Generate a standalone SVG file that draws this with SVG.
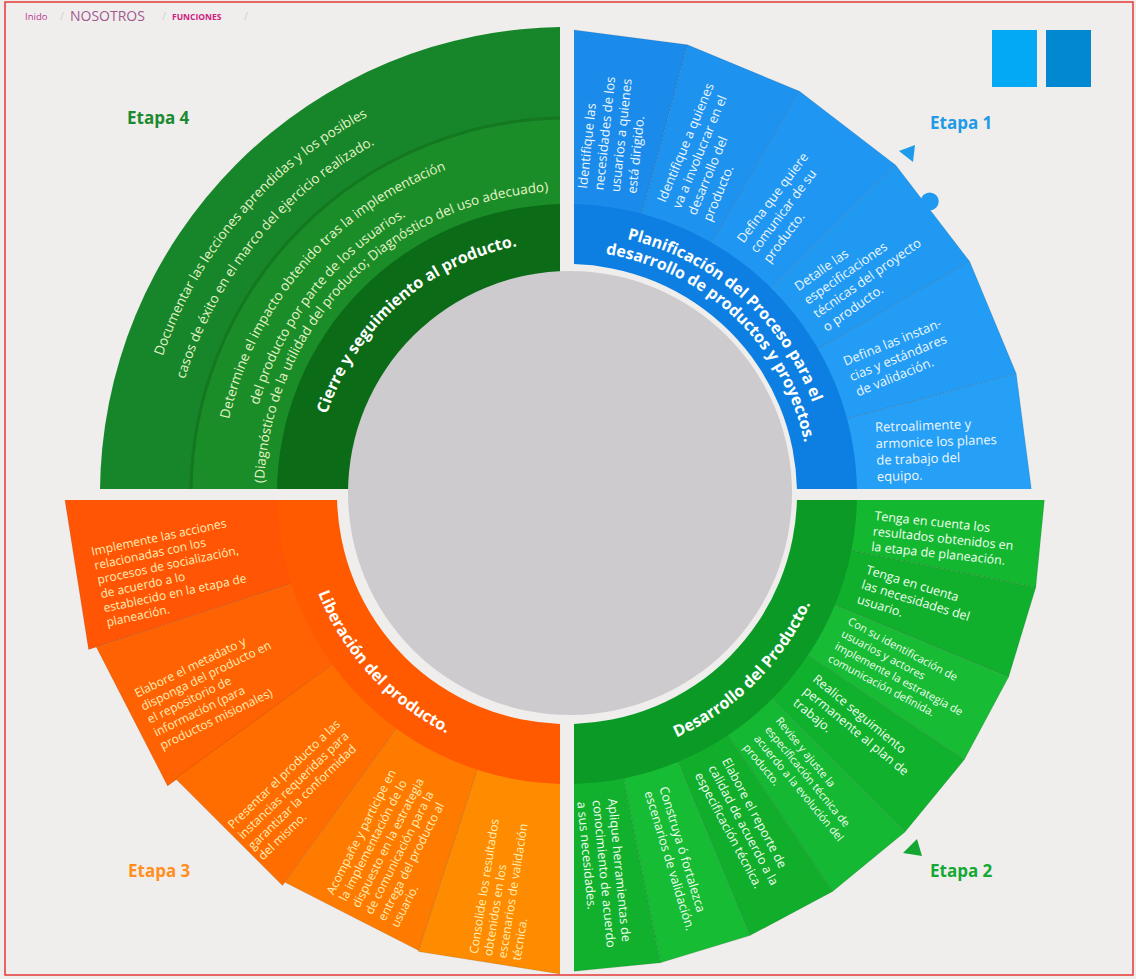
<svg xmlns="http://www.w3.org/2000/svg" xmlns:xlink="http://www.w3.org/1999/xlink" width="1136" height="979" viewBox="0 0 1136 979">
<style>
.f{font-family:"Open Sans","Noto Sans","DejaVu Sans",sans-serif}
.ct{font-family:"Open Sans","Noto Sans",sans-serif;font-size:13px;fill:#eef7ff}
.gt{font-family:"Open Sans","Noto Sans",sans-serif;font-size:12.5px;fill:#f2fff2}
.gs{font-size:11px}
.ot{font-family:"Open Sans","Noto Sans",sans-serif;font-size:12px;fill:#ffefb8}
.e4{font-family:"Open Sans","Noto Sans",sans-serif;font-size:13.5px;fill:#e6f4c8}
.ttl{font-family:"Open Sans","Noto Sans",sans-serif;font-size:16px;font-weight:bold;fill:#ffffff}
.etapa{font-family:"Open Sans","Noto Sans",sans-serif;font-size:17px;font-weight:bold}
.sep{stroke:rgba(0,0,0,0.10);stroke-width:1}
</style>
<defs>
<clipPath id="cq1"><rect x="574" y="0" width="562" height="489"/></clipPath>
<clipPath id="cq2"><rect x="574" y="500" width="562" height="479"/></clipPath>
<clipPath id="cq3"><rect x="0" y="500" width="560" height="479"/></clipPath>
<clipPath id="cq4"><rect x="0" y="0" width="560" height="489"/></clipPath>
<path id="pB1" d="M567,232 A262,262 0 0 1 829,494"/>
<path id="pB2" d="M567,251 A243,243 0 0 1 810,494"/>
<path id="pG" d="M567,761 A267,267 0 0 0 834,494"/>
<path id="pO" d="M299,494 A268,268 0 0 0 567,762"/>
<path id="pD" d="M140,494 A427,427 0 0 1 567,67"/>
<path id="pE" d="M168,494 A399,399 0 0 1 567,95"/>
<path id="pA" d="M221,494 A346,346 0 0 1 567,148"/>
<path id="pBB" d="M246,494 A321,321 0 0 1 567,173"/>
<path id="pC" d="M264,494 A303,303 0 0 1 567,191"/>
<path id="pT" d="M314,494 A253,253 0 0 1 567,241"/>
</defs>

<rect x="0" y="0" width="1136" height="979" fill="#efeeed"/>
<rect x="5" y="2" width="1128" height="973" fill="none" stroke="#e53935" stroke-width="1.5"/>

<g id="breadcrumb" class="f">
<text x="25" y="20" font-size="9.5" fill="#b8388e">Inido</text>
<text x="60" y="20" font-size="11" fill="#cfcfcf">/</text>
<text x="70" y="21" font-size="14" fill="#a45890">NOSOTROS</text>
<text x="162" y="20" font-size="11" fill="#cfcfcf">/</text>
<text x="172" y="20" font-size="8.5" font-weight="bold" fill="#d0207e">FUNCIONES</text>
<text x="244" y="20" font-size="11" fill="#cfcfcf">/</text>
</g>

<g id="squares">
<rect x="992" y="30" width="45" height="57" fill="#03a9f4"/>
<rect x="1046" y="30" width="45" height="57" fill="#0288d1"/>
</g>

<!-- Etapa 4 -->
<g id="etapa4" clip-path="url(#cq4)">
<path d="M567,494 L100,494 A467,467 0 0 1 567,27 Z" fill="#17862a"/>
<path d="M567,494 L191,494 A376,376 0 0 1 567,118 Z" fill="#1a8d29" stroke="#13781f" stroke-width="3"/>
<path d="M567,494 L277,494 A290,290 0 0 1 567,204 Z" fill="#0b6b17"/>
<text class="e4"><textPath xlink:href="#pD" startOffset="45%" text-anchor="middle">Documentar las lecciones aprendidas y los posibles</textPath></text>
<text class="e4"><textPath xlink:href="#pE" startOffset="43.3%" text-anchor="middle">casos de éxito en el marco del ejercicio realizado.</textPath></text>
<text class="e4" font-size="13"><textPath xlink:href="#pA" startOffset="45.6%" text-anchor="middle">Determine el impacto obtenido tras la implementación</textPath></text>
<text class="e4" font-size="13"><textPath xlink:href="#pBB" startOffset="42.2%" text-anchor="middle">del producto por parte de los usuarios.</textPath></text>
<text class="e4" font-size="11.5"><textPath xlink:href="#pC" startOffset="49.2%" text-anchor="middle">(Diagnóstico de la utilidad del producto; Diagnóstico del uso adecuado)</textPath></text>
<text class="ttl"><textPath xlink:href="#pT" startOffset="53.9%" text-anchor="middle">Cierre y seguimiento al producto.</textPath></text>
</g>

<!-- Etapa 1 -->
<g id="etapa1" clip-path="url(#cq1)">
<polygon class="sep" points="567,214 567,29 687.4,44.8 639.5,223.5" fill="#1a8bea"/>
<polygon class="sep" points="639.5,223.5 687.4,44.8 799.5,91.3 707,251.5" fill="#1d92ef"/>
<polygon class="sep" points="707,251.5 799.5,91.3 895.8,165.2 765,296" fill="#1f96f1"/>
<polygon class="sep" points="765,296 895.8,165.2 969.7,261.5 809.5,354" fill="#2099f2"/>
<polygon class="sep" points="809.5,354 969.7,261.5 1016.2,373.6 837.5,421.5" fill="#229cf4"/>
<polygon class="sep" points="837.5,421.5 1016.2,373.6 1032,494 847,494" fill="#25a0f6"/>
<path d="M567,204 A290,290 0 0 1 857,494 L797,494 A230,230 0 0 0 567,264 Z" fill="#0d7fe2"/>
<text class="ttl"><textPath xlink:href="#pB1" startOffset="46%" text-anchor="middle">Planificación del Proceso para el</textPath></text>
<text class="ttl"><textPath xlink:href="#pB2" startOffset="48.3%" text-anchor="middle">desarrollo de productos y proyectos.</textPath></text>
<text class="ct" transform="translate(607,191) rotate(-84)"><tspan x="0" y="-20.2">Identifique las</tspan><tspan x="0" y="-3.7">necesidades de los</tspan><tspan x="0" y="12.8">usuarios a quienes</tspan><tspan x="0" y="29.3">está dirigido.</tspan></text>
<text class="ct" transform="translate(684,211) rotate(-67.5)"><tspan x="0" y="-20.2">Identifique a quienes</tspan><tspan x="0" y="-3.7">va a involucrar en el</tspan><tspan x="0" y="12.8">desarrollo del</tspan><tspan x="0" y="29.3">producto.</tspan></text>
<text class="ct" transform="translate(753,251) rotate(-53)"><tspan x="0" y="-11.95">Defina que quiere</tspan><tspan x="0" y="4.55">comunicar de su</tspan><tspan x="0" y="21.05">producto.</tspan></text>
<text class="ct" transform="translate(810,308) rotate(-35)"><tspan x="0" y="-20.2">Detalle las</tspan><tspan x="0" y="-3.7">especificaciones</tspan><tspan x="0" y="12.8">técnicas del proyecto</tspan><tspan x="0" y="29.3">o producto.</tspan></text>
<text class="ct" transform="translate(850,377) rotate(-22)"><tspan x="0" y="-11.95">Defina las instan-</tspan><tspan x="0" y="4.55">cias y estándares</tspan><tspan x="0" y="21.05">de validación.</tspan></text>
<text class="ct" transform="translate(876,452) rotate(-2)"><tspan x="0" y="-20.2">Retroalimente y</tspan><tspan x="0" y="-3.7">armonice los planes</tspan><tspan x="0" y="12.8">de trabajo del</tspan><tspan x="0" y="29.3">equipo.</tspan></text>
</g>
<g id="etapa1-deco">
<circle cx="929.7" cy="201.4" r="9" fill="#2099f2"/>
<polygon points="899,151 915,145 913,162" fill="#1e9be8"/>
<text class="etapa" x="930" y="129" fill="#1e9ae6">Etapa 1</text>
</g>

<!-- Etapa 2 -->
<g id="etapa2" clip-path="url(#cq2)">
<polygon class="sep" points="847,494 1045,494 1035.8,587.3 841.6,548.6" fill="#14b830"/>
<polygon class="sep" points="841.6,548.6 1035.8,587.3 1008.6,676.9 825.7,601.2" fill="#11b02c"/>
<polygon class="sep" points="825.7,601.2 1008.6,676.9 964.4,759.6 799.8,649.6" fill="#17bb34"/>
<polygon class="sep" points="799.8,649.6 964.4,759.6 905,832 765,692" fill="#10b22d"/>
<polygon class="sep" points="765,692 905,832 832.6,891.4 722.6,726.8" fill="#15b832"/>
<polygon class="sep" points="722.6,726.8 832.6,891.4 749.9,935.6 674.2,752.7" fill="#10ae2b"/>
<polygon class="sep" points="674.2,752.7 749.9,935.6 660.3,962.8 621.6,768.6" fill="#17bc35"/>
<polygon class="sep" points="621.6,768.6 660.3,962.8 567,972 567,774" fill="#11b12d"/>
<path d="M857,494 A290,290 0 0 1 567,784 L567,724 A230,230 0 0 0 797,494 Z" fill="#0c9a27"/>
<text class="ttl"><textPath xlink:href="#pG" startOffset="50%" text-anchor="middle">Desarrollo del Producto.</textPath></text>
<text class="gt" transform="translate(873,531) rotate(6)"><tspan x="0" y="-11.1">Tenga en cuenta los</tspan><tspan x="0" y="4.4">resultados obtenidos en</tspan><tspan x="0" y="19.9">la etapa de planeación.</tspan></text>
<text class="gt" transform="translate(862,584) rotate(17)"><tspan x="0" y="-11.1">Tenga en cuenta</tspan><tspan x="0" y="4.4">las necesidades del</tspan><tspan x="0" y="19.9">usuario.</tspan></text>
<text class="gt gs" transform="translate(839,639) rotate(28)"><tspan x="0" y="-17.15">Con su identificación de</tspan><tspan x="0" y="-3.15">usuarios y actores</tspan><tspan x="0" y="10.85">implemente la estrategia de</tspan><tspan x="0" y="24.85">comunicación definida.</tspan></text>
<text class="gt" transform="translate(805,689) rotate(39.4)"><tspan x="0" y="-11.1">Realice seguimiento</tspan><tspan x="0" y="4.4">permanente al plan de</tspan><tspan x="0" y="19.9">trabajo.</tspan></text>
<text class="gt gs" transform="translate(762,732) rotate(50.6)"><tspan x="0" y="-17.15">Revise y ajuste la</tspan><tspan x="0" y="-3.15">especificación técnica de</tspan><tspan x="0" y="10.85">acuerdo a la evolución del</tspan><tspan x="0" y="24.85">producto.</tspan></text>
<text class="gt" transform="translate(712,766) rotate(61.9)"><tspan x="0" y="-11.1">Elabore el reporte de</tspan><tspan x="0" y="4.4">calidad de acuerdo a la</tspan><tspan x="0" y="19.9">especificación técnica.</tspan></text>
<text class="gt" transform="translate(656,789) rotate(73.1)"><tspan x="0" y="-3.35">Construya ó fortalezca</tspan><tspan x="0" y="12.15">escenarios de validación.</tspan></text>
<text class="gt" transform="translate(597,800) rotate(84.4)"><tspan x="0" y="-11.1">Aplique herramientas de</tspan><tspan x="0" y="4.4">conocimiento de acuerdo</tspan><tspan x="0" y="19.9">a sus necesidades.</tspan></text>
</g>
<g id="etapa2-deco">
<polygon points="917,839 903,853 922,856" fill="#13a632"/>
<text class="etapa" x="930" y="877" fill="#14a934">Etapa 2</text>
</g>

<!-- Etapa 3 -->
<g id="etapa3" clip-path="url(#cq3)">
<polygon class="sep" points="287,494 64,494 88.6,649.4 300.7,580.5" fill="#ff5505"/>
<polygon class="sep" points="300.7,580.5 96.3,647 167.6,785.9 340.5,658.6" fill="#ff6203"/>
<polygon class="sep" points="340.5,658.6 175.4,778.5 282.5,885.6 402.4,720.5" fill="#ff6c00"/>
<polygon class="sep" points="402.4,720.5 284.9,882.3 418.7,950.5 480.5,760.3" fill="#ff7b00"/>
<polygon class="sep" points="480.5,760.3 418.4,951.5 567,975 567,774" fill="#ff8b00"/>
<path d="M277,494 A290,290 0 0 0 567,784 L567,724 A230,230 0 0 1 337,494 Z" fill="#ff5a00"/>
<text class="ttl" fill="#fff3d6"><textPath xlink:href="#pO" startOffset="47.2%" text-anchor="middle">Liberación del producto.</textPath></text>
<text class="ot" transform="translate(99,587) rotate(-12)"><tspan x="0" y="-32.05">Implemente las acciones</tspan><tspan x="0" y="-17.55">relacionadas con los</tspan><tspan x="0" y="-3.05">procesos de socialización,</tspan><tspan x="0" y="11.45">de acuerdo a lo</tspan><tspan x="0" y="25.95">establecido en la etapa de</tspan><tspan x="0" y="40.45">planeación.</tspan></text>
<text class="ot" transform="translate(148,720) rotate(-26)"><tspan x="0" y="-24.8">Elabore el metadato y</tspan><tspan x="0" y="-10.3">disponga del producto en</tspan><tspan x="0" y="4.2">el repositorio de</tspan><tspan x="0" y="18.7">información (para</tspan><tspan x="0" y="33.2">productos misionales)</tspan></text>
<text class="ot" transform="translate(245,842) rotate(-44)"><tspan x="0" y="-17.55">Presentar el producto a las</tspan><tspan x="0" y="-3.05">instancias requeridas para</tspan><tspan x="0" y="11.45">garantizar la conformidad</tspan><tspan x="0" y="25.95">del mismo.</tspan></text>
<text class="ot" transform="translate(362,910) rotate(-63)"><tspan x="0" y="-32.05">Acompañe y participe en</tspan><tspan x="0" y="-17.55">la implementación de lo</tspan><tspan x="0" y="-3.05">dispuesto en la estrategia</tspan><tspan x="0" y="11.45">de comunicación para la</tspan><tspan x="0" y="25.95">entrega del producto al</tspan><tspan x="0" y="40.45">usuario.</tspan></text>
<text class="ot" transform="translate(495,957) rotate(-81)"><tspan x="0" y="-17.55">Consolide los resultados</tspan><tspan x="0" y="-3.05">obtenidos en los</tspan><tspan x="0" y="11.45">escenarios de validación</tspan><tspan x="0" y="25.95">técnica.</tspan></text>
</g>

<g id="labels">
<text class="etapa" x="128" y="877" fill="#ff8f1f">Etapa 3</text>
<text class="etapa" x="127" y="124" fill="#1c8a2e">Etapa 4</text>
</g>

<g id="center">
<circle cx="570" cy="493" r="222" fill="#cdcbce"/>
</g>
<g id="connectors"></g>
</svg>
